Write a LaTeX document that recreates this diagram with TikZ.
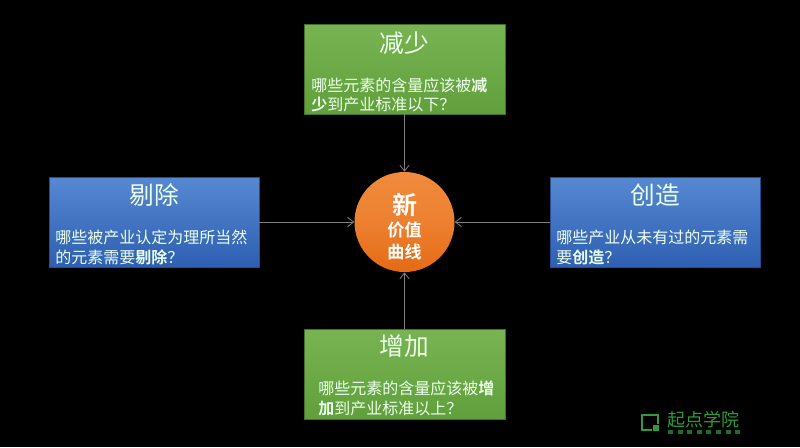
\documentclass[tikz,border=0pt]{standalone}
\usepackage{fontspec}
\setmainfont{Noto Sans CJK SC}[BoldFont={Noto Sans CJK SC Bold}]
\usetikzlibrary{arrows.meta}
\definecolor{gtop}{HTML}{78B552}
\definecolor{gbot}{HTML}{619F3C}
\definecolor{btop}{HTML}{5688D2}
\definecolor{bbot}{HTML}{2E5FB2}
\definecolor{otop}{HTML}{F08A3C}
\definecolor{obot}{HTML}{E56A14}
\definecolor{linkc}{HTML}{808080}
\definecolor{logog}{HTML}{2F9A3A}
\tikzset{
 x=0.75pt,y=-0.75pt,
 greenbox/.style={rectangle,minimum width=150.75pt,minimum height=67.5pt,inner sep=0pt,top color=gtop,bottom color=gbot,draw=gbot!70!black,line width=.4pt},
 bluebox/.style={rectangle,minimum width=157.5pt,minimum height=67.5pt,inner sep=0pt,top color=btop,bottom color=bbot,draw=bbot!80!black,line width=.4pt},
 hub/.style={circle,minimum size=75pt,inner sep=0pt,top color=otop,bottom color=obot,middle color=otop!70!obot},
 head/.style={text=white!92!green,font=\fontsize{18.5}{20}\selectfont,inner sep=0pt},
 body/.style={text=white!92!green,font=\fontsize{12}{14.5}\selectfont,inner sep=0pt,align=left,anchor=north west},
 link/.style={draw=linkc,line width=.6pt,-{Straight Barb[length=4.5pt,width=7pt]}},
 logobar/.style={draw=logog,line width=2.2pt},
 logodot/.style={fill=logog!70!black,draw=none},
}
\begin{document}
\begin{tikzpicture}
\useasboundingbox (0,0) rectangle (800,447);
\fill[black] (0,0) rectangle (800,447);
\node[greenbox] (top) at (404.5,69) {};
\node[greenbox] (bot) at (404.5,374) {};
\node[bluebox] (left) at (154,222) {};
\node[bluebox] (right) at (655,222) {};
\node[hub] (hubc) at (404.5,222) {};
\draw[link] (top) -- (hubc);
\draw[link] (bot) -- (hubc);
\draw[link] (left) -- (hubc);
\draw[link] (right) -- (hubc);
\node[head] (t1) at (404,43) {减少};
\node[body] (t2) at (311,77.5) {哪些元素的含量应该被\textbf{减}\\\textbf{少}到产业标准以下？};
\node[head] (l1) at (154,195) {剔除};
\node[body] (l2) at (55,230) {哪些被产业认定为理所当然\\的元素需要\textbf{剔除}？};
\node[head] (r1) at (655,195) {创造};
\node[body] (r2) at (556,230) {哪些产业从未有过的元素需\\要\textbf{创造}？};
\node[head] (b1) at (404,346) {增加};
\node[body] (b2) at (318,381) {哪些元素的含量应该被\textbf{增}\\\textbf{加}到产业标准以上？};
\node[text=white,inner sep=0pt,font=\fontsize{18.7}{20}\selectfont\bfseries] (h1) at (404.5,205) {新};
\node[text=white,inner sep=0pt,font=\fontsize{12.8}{14}\selectfont\bfseries] (h2) at (404.5,230) {价值};
\node[text=white,inner sep=0pt,font=\fontsize{12.8}{14}\selectfont\bfseries] (h3) at (404.5,252) {曲线};
\draw[logobar] (652,430) -- (642,430) -- (642,415) -- (658,415) -- (658,424);
\fill[logog] (653,425) rectangle (659,431);
\node[text=logog,inner sep=0pt,font=\fontsize{13.5}{15}\selectfont] (logo) at (703,420) {起点学院};
\foreach \i in {0,...,7} \fill[logodot] (668+\i*9.6,430) rectangle (673+\i*9.6,434);
\end{tikzpicture}
\end{document}
